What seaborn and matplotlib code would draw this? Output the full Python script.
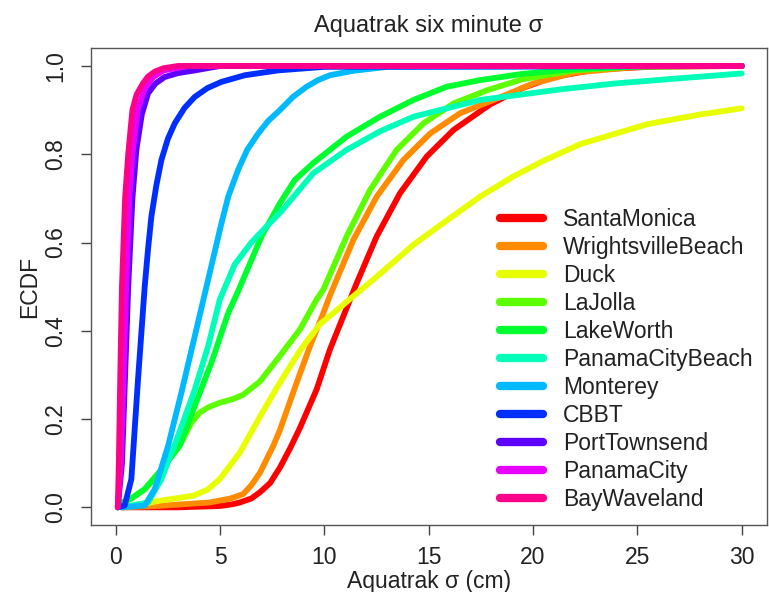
import numpy as np
import pandas as pd
import seaborn as sns
import matplotlib.pyplot as plt

# station names in legend order
stations = ["SantaMonica", "WrightsvilleBeach", "Duck", "LaJolla", "LakeWorth",
            "PanamaCityBeach", "Monterey", "CBBT", "PortTownsend", "PanamaCity",
            "BayWaveland"]
# R rainbow(11)
colors = ["#FF0000", "#FF8B00", "#E8FF00", "#5DFF00", "#00FF2E", "#00FFB9",
          "#00B9FF", "#002EFF", "#5D00FF", "#E800FF", "#FF008B"]

# ECDF curves (sigma in cm, cumulative fraction)
santamonica_x = [0.3, 3, 5.0, 5.6, 5.95, 6.5, 6.91, 7.4, 7.87, 8.35, 8.83, 9.63, 10.27, 10.91, 11.55,
                 12.51, 13.63, 14.91, 16.19, 17.95, 19.5, 21, 23, 26, 30]
santamonica_y = [0, 0, 0.003, 0.007, 0.011, 0.02, 0.034, 0.055, 0.09, 0.133, 0.18, 0.267, 0.358, 0.433, 0.508,
                 0.614, 0.712, 0.795, 0.855, 0.913, 0.95, 0.975, 0.992, 0.999, 1]

wrightsville_x = [0.3, 2, 4.51, 5.5, 6.11, 6.5, 6.91, 7.55, 7.87, 8.67, 9.31, 9.95, 10.27, 11.39,
                  12.51, 13.79, 15.07, 16.51, 18.11, 20, 22, 25, 30]
wrightsville_y = [0, 0.003, 0.011, 0.02, 0.03, 0.05, 0.078, 0.139, 0.175, 0.282, 0.365, 0.44, 0.48, 0.606,
                  0.704, 0.787, 0.847, 0.893, 0.923, 0.96, 0.985, 0.998, 1]

duck_x = [0.3, 1, 2.11, 3.71, 4.4, 4.99, 5.95, 6.91, 7.71, 8.83, 9.79, 10.43, 11.23, 12.35, 14.27,
          15.87, 17.5, 19.07, 20.5, 22.27, 25.47, 28, 30]
duck_y = [0, 0.005, 0.015, 0.026, 0.04, 0.064, 0.124, 0.205, 0.27, 0.355, 0.415, 0.44, 0.472, 0.516, 0.595,
          0.65, 0.705, 0.75, 0.785, 0.823, 0.868, 0.89, 0.904]

lajolla_x = [0.1, 0.27, 0.75, 1.39, 2.19, 3.07, 3.6, 4.03, 4.5, 5.0, 5.6, 6.11, 6.91, 7.87, 8.83,
             9.63, 9.95, 11.07, 12.19, 13.47, 14.75, 16.19, 17.8, 19.5, 22, 25, 30]
lajolla_y = [0, 0.01, 0.02, 0.041, 0.085, 0.14, 0.19, 0.215, 0.228, 0.237, 0.245, 0.255, 0.285, 0.343, 0.403,
             0.471, 0.493, 0.614, 0.719, 0.81, 0.87, 0.915, 0.945, 0.97, 0.99, 0.999, 1]

lakeworth_x = [0.1, 0.27, 0.75, 1.39, 2.19, 3.07, 3.79, 4.59, 5.39, 5.87, 6.99, 7.87, 8.59, 9.47,
               11.07, 12.67, 14.27, 15.87, 17.47, 19.5, 22, 25, 30]
lakeworth_y = [0, 0.01, 0.02, 0.041, 0.085, 0.14, 0.23, 0.328, 0.44, 0.49, 0.614, 0.689, 0.742, 0.78,
               0.84, 0.885, 0.923, 0.953, 0.968, 0.982, 0.993, 0.999, 1]

pcbeach_x = [0.3, 1.55, 2.19, 2.99, 3.79, 4.43, 4.99, 5.7, 6.5, 7.2, 7.87, 9.47, 11.07, 12.67, 14.27,
             15.87, 17.47, 19.07, 21.5, 23.87, 27, 30]
pcbeach_y = [0, 0.011, 0.064, 0.162, 0.267, 0.365, 0.471, 0.55, 0.6, 0.635, 0.667, 0.757, 0.81, 0.852, 0.885,
             0.904, 0.923, 0.933, 0.948, 0.96, 0.972, 0.983]

monterey_x = [0.3, 1.39, 1.87, 2.51, 3.15, 3.79, 4.3, 5.07, 5.4, 5.87, 6.3, 6.83, 7.3, 7.87, 8.5,
              9.15, 9.7, 10.27, 11.39, 13, 30]
monterey_y = [0, 0.004, 0.041, 0.139, 0.26, 0.388, 0.49, 0.644, 0.705, 0.765, 0.81, 0.847, 0.875, 0.9, 0.93,
              0.953, 0.968, 0.979, 0.989, 0.998, 1]

cbbt_x = [0.1, 0.43, 0.75, 1.07, 1.39, 1.55, 1.71, 1.95, 2.19, 2.5, 2.83, 3.3, 3.79, 4.4, 5.07,
          6.19, 7.79, 10, 30]
cbbt_y = [0, 0.004, 0.064, 0.29, 0.5, 0.585, 0.659, 0.73, 0.787, 0.835, 0.87, 0.905, 0.93, 0.95, 0.964,
          0.979, 0.99, 0.998, 1]

porttownsend_x = [0.1, 0.3, 0.45, 0.6, 0.8, 0.99, 1.25, 1.55, 1.9, 2.35, 3.0, 3.8, 5, 30]
porttownsend_y = [0, 0.1, 0.3, 0.5, 0.7, 0.81, 0.89, 0.938, 0.96, 0.975, 0.984, 0.99, 1, 1]

panamacity_x = [0.1, 0.25, 0.38, 0.5, 0.65, 0.8, 1.05, 1.4, 1.8, 2.3, 3.5, 30]
panamacity_y = [0, 0.1, 0.3, 0.5, 0.7, 0.8, 0.9, 0.95, 0.975, 0.99, 1, 1]

baywaveland_x = [0.1, 0.15, 0.22, 0.3, 0.45, 0.6, 0.8, 1.0, 1.3, 1.55, 1.87, 2.3, 3, 30]
baywaveland_y = [0, 0.1, 0.3, 0.5, 0.7, 0.8, 0.9, 0.935, 0.96, 0.976, 0.987, 0.995, 1, 1]

curves = [(santamonica_x, santamonica_y), (wrightsville_x, wrightsville_y), (duck_x, duck_y),
          (lajolla_x, lajolla_y), (lakeworth_x, lakeworth_y), (pcbeach_x, pcbeach_y),
          (monterey_x, monterey_y), (cbbt_x, cbbt_y), (porttownsend_x, porttownsend_y),
          (panamacity_x, panamacity_y), (baywaveland_x, baywaveland_y)]

frames = []
for name, (xs, ys) in zip(stations, curves):
    frames.append(pd.DataFrame({"sigma": xs, "ecdf": ys, "station": name}))
df = pd.concat(frames, ignore_index=True)

sns.set_theme(style="white")
plt.rcParams["font.family"] = ["Liberation Sans", "DejaVu Sans"]
plt.rcParams["text.color"] = "#222222"
plt.rcParams["axes.labelcolor"] = "#222222"
plt.rcParams["xtick.color"] = "#444444"
plt.rcParams["ytick.color"] = "#444444"

fig = plt.figure(figsize=(7.69, 5.92), dpi=100)
ax = fig.add_axes([0.1179, 0.1132, 0.8791, 0.8052])

sns.lineplot(data=df, x="sigma", y="ecdf", hue="station", hue_order=stations,
             palette=colors, estimator=None, sort=False, lw=4.2, ax=ax)
for line in ax.get_lines():
    line.set_solid_capstyle("round")
    line.set_solid_joinstyle("round")

ax.set_xlim(-1.2, 31.2)
ax.set_ylim(-0.04, 1.04)
ax.set_xticks([0, 5, 10, 15, 20, 25, 30])
ax.set_yticks([0.0, 0.2, 0.4, 0.6, 0.8, 1.0])
ax.set_yticklabels(["0.0", "0.2", "0.4", "0.6", "0.8", "1.0"])
ax.tick_params(axis="both", direction="out", length=7, width=1, labelsize=16.5,
               labelcolor="#222222", left=True, bottom=True)
ax.tick_params(axis="x", pad=8)
ax.tick_params(axis="y", pad=10, labelrotation=90)
for lab in ax.get_yticklabels():
    lab.set_va("center")
for sp in ax.spines.values():
    sp.set_color("#555555")
    sp.set_linewidth(1)

ax.set_title("Aquatrak six minute σ", fontsize=17, pad=12)
ax.set_xlabel("Aquatrak σ (cm)", fontsize=16.5, labelpad=0.5)
ax.set_ylabel("ECDF", fontsize=16.5, labelpad=2)

leg = ax.legend(loc="upper left", bbox_to_anchor=(0.605, 0.665), frameon=False,
                borderpad=0, borderaxespad=0, handlelength=1.9, handletextpad=0.85,
                labelspacing=0.22, fontsize=16.5)
for line in leg.get_lines():
    line.set_linewidth(6)
    line.set_solid_capstyle("round")

fig.savefig("out.png", dpi=100)
